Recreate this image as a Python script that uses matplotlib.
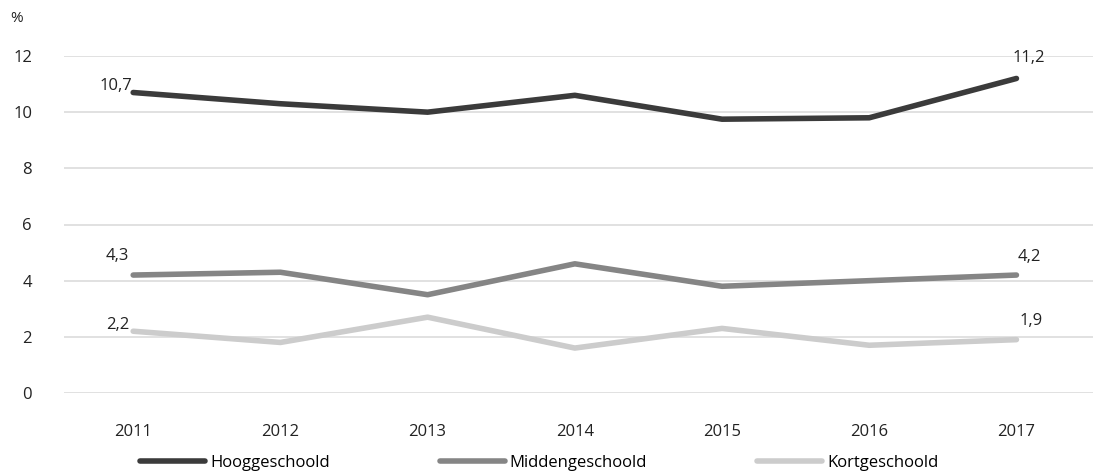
import matplotlib
matplotlib.use("Agg")
import matplotlib.pyplot as plt
from matplotlib.lines import Line2D

# ── data ──────────────────────────────────────────────────────────────────────
years = [2011, 2012, 2013, 2014, 2015, 2016, 2017]
hoog = [10.7, 10.3, 10.0, 10.6, 9.75, 9.8, 11.2]
midden = [4.2, 4.3, 3.5, 4.6, 3.8, 4.0, 4.2]
kort = [2.2, 1.8, 2.7, 1.6, 2.3, 1.7, 1.9]

series_names = ["Hooggeschoold", "Middengeschoold", "Kortgeschoold"]
first_labels = ["10,7", "4,3", "2,2"]
last_labels = ["11,2", "4,2", "1,9"]
colours = ["#3b3b3b", "#858585", "#cccccc"]

plt.rcParams["font.family"] = ["Open Sans", "DejaVu Sans"]
FS = 12
TXT = "#222222"

W, H = 1096, 475
fig = plt.figure(figsize=(W / 100, H / 100), dpi=100)
ax = fig.add_axes([64 / W, 1 - 393 / H, (1093 - 64) / W, (393 - 56) / H])

x = list(range(len(years)))
# label offsets in points (tuned per series, Excel-style placement)
first_off = [(-1, -1), (-3, 8), (-3, -1)]
last_off = [(-3, 9), (1, 7), (2, 8)]
for i, vals in enumerate([hoog, midden, kort]):
    ax.plot(x, vals, color=colours[i], linewidth=4, solid_capstyle="round",
            solid_joinstyle="round", zorder=3)
    ax.annotate(first_labels[i], (x[0], vals[0]), xytext=first_off[i],
                textcoords="offset points", ha="right", va="bottom",
                fontsize=FS, color=TXT)
    ax.annotate(last_labels[i], (x[-1], vals[-1]), xytext=last_off[i],
                textcoords="offset points", ha="left", va="bottom",
                fontsize=FS, color=TXT)

ax.set_xlim(-0.47, len(years) - 1 + 0.52)
ax.set_ylim(0, 12)
ax.set_yticks(range(0, 13, 2))
ax.set_xticks(x)
ax.set_xticklabels([str(y) for y in years])
ax.grid(axis="y", color="#dedede", linewidth=1.3)
ax.set_axisbelow(True)
for s in ax.spines.values():
    s.set_visible(False)
ax.tick_params(length=0, labelsize=FS, colors=TXT)
ax.tick_params(axis="y", pad=23)
ax.tick_params(axis="x", pad=22)
fig.text(10 / W, 1 - 19 / H, "%", fontsize=11, color=TXT, va="center")

handles = [Line2D([0], [0], color=c, linewidth=4, solid_capstyle="round")
           for c in colours]
fig.legend(handles, series_names, loc="center", bbox_to_anchor=(0.492, 1 - 463 / H),
           ncol=3, frameon=False, fontsize=FS, handlelength=3.9,
           handletextpad=0.3, columnspacing=6.6)

fig.savefig("out.png", dpi=100)
